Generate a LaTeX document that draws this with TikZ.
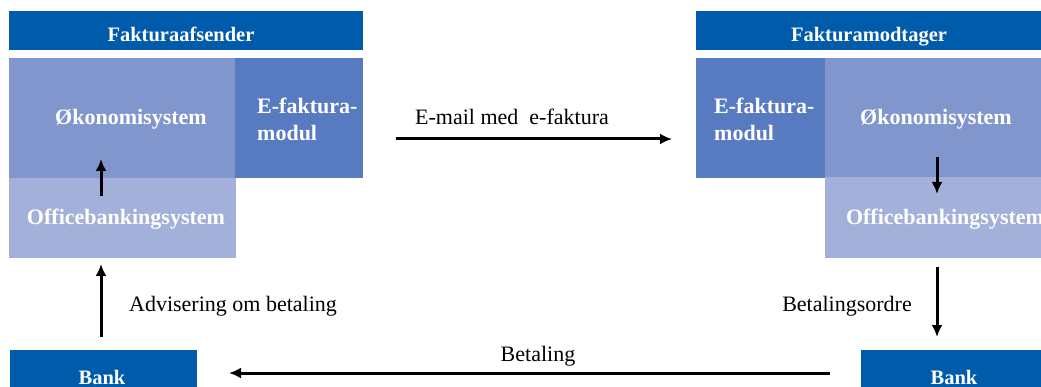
\documentclass[tikz,border=0pt]{standalone}
\usepackage{fontspec}
\setmainfont{Liberation Serif}
\usetikzlibrary{arrows.meta}
\definecolor{hdr}{RGB}{0,91,170}
\definecolor{oko}{RGB}{128,150,204}
\definecolor{efak}{RGB}{88,122,192}
\definecolor{ofc}{RGB}{163,176,217}
\begin{document}
\begin{tikzpicture}[x=1pt,y=-1pt,
  box/.style={draw=none, inner sep=0pt, anchor=north west},
  hdrtxt/.style={text=white, font=\fontsize{20.5}{24}\selectfont\bfseries, anchor=base, inner sep=0pt},
  btxt/.style={text=white, font=\fontsize{22}{27}\selectfont\bfseries, anchor=base, inner sep=0pt},
  lbl/.style={text=black, font=\fontsize{22}{27}\selectfont, anchor=base, inner sep=0pt},
  arr/.style={-{Latex[length=12pt,width=11pt]}, line width=3pt, black}]
\useasboundingbox (0,0) rectangle (1041,387);
\clip (0,0) rectangle (1041,387);
% left side
\node[box, fill=hdr, minimum width=354pt, minimum height=39pt] (lhdr) at (9,11) {};
\node[box, fill=oko, minimum width=227pt, minimum height=120pt] (loko) at (9,58) {};
\node[box, fill=efak, minimum width=128pt, minimum height=120pt] (lefak) at (235,58) {};
\node[box, fill=ofc, minimum width=227pt, minimum height=80pt] (lofc) at (9,178) {};
\node[box, fill=hdr, minimum width=187pt, minimum height=50pt] (lbank) at (10,350) {};
% right side
\node[box, fill=hdr, minimum width=354pt, minimum height=39pt] (rhdr) at (696,11) {};
\node[box, fill=efak, minimum width=129pt, minimum height=120pt] (refak) at (696,58) {};
\node[box, fill=oko, minimum width=227pt, minimum height=120pt] (roko) at (825,58) {};
\node[box, fill=ofc, minimum width=227pt, minimum height=81pt] (rofc) at (825,177) {};
\node[box, fill=hdr, minimum width=187pt, minimum height=50pt] (rbank) at (861,350) {};
% texts
\node[hdrtxt] (lhdrt) at (181,42) {Fakturaafsender};
\node[btxt] (lokot) at (131,125) {Økonomisystem};
\node[btxt, anchor=base west] (lefakt1) at (257,114) {E-faktura-};
\node[btxt, anchor=base west] (lefakt2) at (257,141) {modul};
\node[btxt] (lofct) at (126,225) {Officebankingsystem};
\node[hdrtxt] (rhdrt) at (869,42) {Fakturamodtager};
\node[btxt, anchor=base west] (refakt1) at (714,114) {E-faktura-};
\node[btxt, anchor=base west] (refakt2) at (714,141) {modul};
\node[btxt] (rokot) at (936,125) {Økonomisystem};
\node[btxt] (rofct) at (945,225) {Officebankingsystem};
\node[btxt, font=\fontsize{20.5}{24}\selectfont\bfseries] (lbankt) at (102,384) {Bank};
\node[btxt, font=\fontsize{20.5}{24}\selectfont\bfseries] (rbankt) at (954,384) {Bank};
\node[lbl] (email) at (512,125) {E-mail med\ \ e-faktura};
\node[lbl] (advis) at (233,311) {Advisering om betaling};
\node[lbl] (bord) at (847,311) {Betalingsordre};
\node[lbl] (betal) at (538,361) {Betaling};
% connectors
\coordinate (a1s) at (101,196);
\coordinate (a1e) at (101,159);
\coordinate (a2s) at (937,157);
\coordinate (a2e) at (937,194);
\coordinate (a3s) at (101,337);
\coordinate (a3e) at (101,264);
\coordinate (a4s) at (937,267);
\coordinate (a4e) at (937,337);
\coordinate (a5s) at (830,373);
\coordinate (a5e) at (229,373);
\coordinate (a6s) at (396,139);
\coordinate (a6e) at (672,139);
\draw[arr] (a1s) -- (a1e);
\draw[arr] (a2s) -- (a2e);
\draw[arr] (a3s) -- (a3e);
\draw[arr] (a4s) -- (a4e);
\draw[arr] (a5s) -- (a5e);
\draw[arr] (a6s) -- (a6e);
\end{tikzpicture}
\end{document}
